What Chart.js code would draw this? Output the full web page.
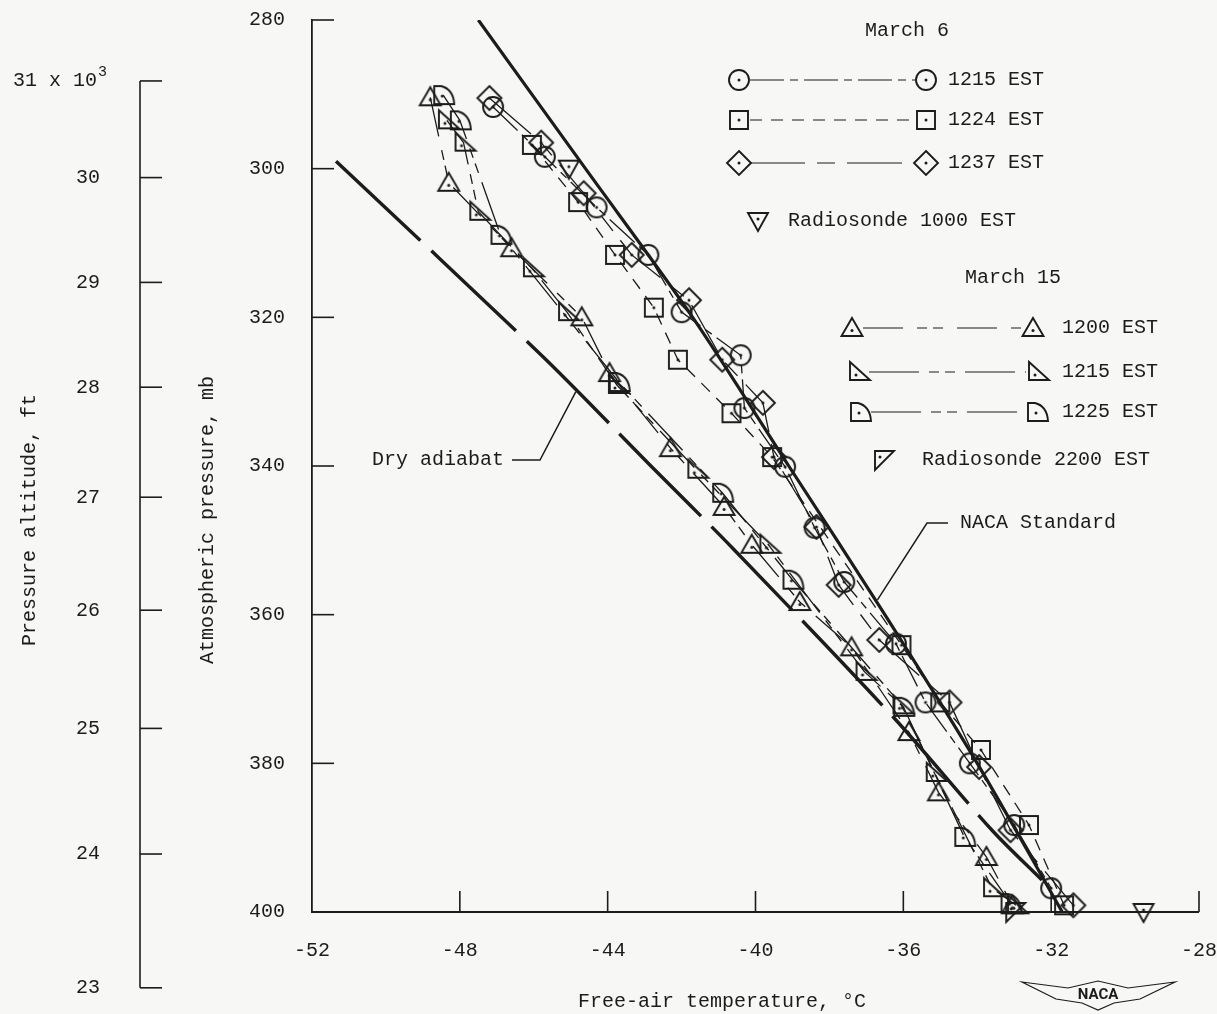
<!DOCTYPE html>
<html>
<head>
<meta charset="utf-8">
<title>Free-air temperature soundings</title>
<script src="https://cdn.jsdelivr.net/npm/chart.js@4.4.1/dist/chart.umd.min.js"></script>
<style>
  html, body { margin: 0; padding: 0; background: #f7f7f5; }
  #chart { display: block; }
</style>
</head>
<body>
<canvas id="chart" width="1217" height="1014"></canvas>
<script>
const ink = '#1c1c1c';
const mono = "'Liberation Mono', 'DejaVu Sans Mono', monospace";

// axes
const pressureTicks = [280, 300, 320, 340, 360, 380, 400];
const tempTicks = [-52, -48, -44, -40, -36, -32, -28];
const altitudeLabels = [31, 30, 29, 28, 27, 26, 25, 24, 23];
const altitudePressure = [288.2, 301.2, 315.3, 329.4, 344.2, 359.4, 375.3, 392.2, 410.2];

// March 6
const mar6_1215_t = [-47.1, -45.7, -44.3, -42.9, -42.0, -40.4, -40.3, -39.2, -38.4, -37.6, -36.2, -35.4, -34.2, -33.0, -32.0];
const mar6_1215_p = [291.7, 298.4, 305.2, 311.6, 319.3, 325.1, 332.2, 340.1, 348.3, 355.6, 363.9, 371.8, 380.0, 388.3, 396.8];
const mar6_1224_t = [-46.05, -44.8, -43.8, -42.75, -42.1, -40.65, -39.55, -36.05, -35.0, -33.9, -32.6, -31.65];
const mar6_1224_p = [296.8, 304.5, 311.6, 318.7, 325.7, 332.9, 338.8, 364.1, 371.8, 378.2, 388.3, 399.1];
const mar6_1237_t = [-47.2, -45.8, -44.65, -43.35, -41.8, -40.9, -39.8, -39.5, -38.35, -37.75, -36.65, -34.75, -33.95, -33.1, -31.4];
const mar6_1237_p = [290.5, 296.5, 303.3, 311.6, 317.7, 325.7, 331.5, 338.8, 348.2, 356.0, 363.4, 371.8, 380.5, 389.0, 399.1];
const sonde1000_t = [-45.05, -29.5];
const sonde1000_p = [300, 400];

// March 15
const mar15_1200_t = [-48.8, -48.3, -46.6, -44.7, -43.95, -42.3, -40.85, -40.1, -38.8, -37.4, -35.85, -35.05, -33.75, -33.05];
const mar15_1200_p = [290.4, 301.9, 310.7, 320.0, 327.5, 337.6, 345.5, 350.6, 358.3, 364.4, 375.8, 383.9, 392.6, 399.1];
const mar15_1215_t = [-48.35, -47.9, -47.5, -46.05, -45.1, -43.75, -41.6, -39.65, -37.05, -36.05, -35.15, -33.6, -32.95];
const mar15_1215_p = [293.5, 296.5, 305.8, 313.4, 319.3, 329.1, 340.5, 350.6, 367.7, 372.2, 381.3, 396.8, 399.1];
const mar15_1225_t = [-48.45, -48.0, -46.9, -43.7, -40.9, -39.0, -36.0, -34.35, -33.1];
const mar15_1225_p = [290.1, 293.5, 308.9, 328.7, 343.6, 355.3, 372.4, 389.9, 398.8];
const sonde2200_t = [-33.0];
const sonde2200_p = [400];

// reference curves
const nacaStd_t = [-47.5, -44.6, -41.7, -39.1, -36.5, -34.0, -31.7];
const nacaStd_p = [280, 300, 320, 340, 360, 380, 400];
const dryAdiabat_t = [-51.35, -45.75, -42.85, -40.65, -36.25, -33.6, -32.25];
const dryAdiabat_p = [299.0, 325.3, 339.9, 350.9, 373.9, 389.0, 395.7];

const pts = (t, p) => t.map((v, i) => ({ x: v, y: p[i] }));

// open markers with a centre dot, like the original symbols
function marker(shape) {
  const c = document.createElement('canvas');
  c.width = 30; c.height = 30;
  const g = c.getContext('2d');
  g.translate(15, 15);
  g.strokeStyle = ink; g.fillStyle = ink; g.lineWidth = 1.9;
  g.beginPath();
  let dot = [0, 0];
  if (shape === 'circle') g.arc(0, 0, 10, 0, Math.PI * 2);
  if (shape === 'square') g.rect(-9, -9, 18, 18);
  if (shape === 'diamond') { g.moveTo(0, -12); g.lineTo(12, 0); g.lineTo(0, 12); g.lineTo(-12, 0); g.closePath(); }
  if (shape === 'triangle') { g.moveTo(0, -10); g.lineTo(10.5, 8); g.lineTo(-10.5, 8); g.closePath(); dot = [0, 2.5]; }
  if (shape === 'rtri') { g.moveTo(-8, -10); g.lineTo(-8, 8); g.lineTo(12, 8); g.closePath(); dot = [-2, 3]; }
  if (shape === 'dshape') { g.moveTo(-9, 9); g.lineTo(-9, -9); g.lineTo(-2, -9); g.quadraticCurveTo(10, -6, 11, 9); g.closePath(); dot = [-1, 1]; }
  if (shape === 'down') { g.moveTo(-10, -8); g.lineTo(10, -8); g.lineTo(0, 10); g.closePath(); dot = [0, -2]; }
  if (shape === 'downFlag') { g.moveTo(-8, -9); g.lineTo(11, -9); g.lineTo(-8, 10); g.closePath(); dot = [-3, -3]; }
  g.stroke();
  g.beginPath(); g.arc(dot[0], dot[1], 1.5, 0, Math.PI * 2); g.fill();
  return c;
}

const markers = {
  circle: marker('circle'), square: marker('square'), diamond: marker('diamond'),
  triangle: marker('triangle'), rtri: marker('rtri'), dshape: marker('dshape'),
  down: marker('down'), downFlag: marker('downFlag')
};

function series(label, t, p, style, dash) {
  return {
    label, data: pts(t, p), showLine: dash !== null,
    borderColor: ink, borderWidth: 1.3, borderDash: dash || [],
    pointStyle: markers[style], pointRadius: 6, clip: false, tension: 0
  };
}

const datasets = [
  { label: 'NACA Standard', data: pts(nacaStd_t, nacaStd_p), showLine: true, borderColor: ink,
    borderWidth: 3.2, pointRadius: 0, tension: 0.3 },
  { label: 'Dry adiabat', data: pts(dryAdiabat_t, dryAdiabat_p), showLine: true, borderColor: ink,
    borderWidth: 3.4, borderDash: [116, 15], pointRadius: 0, tension: 0.3 },
  series('March 6 1215 EST', mar6_1215_t, mar6_1215_p, 'circle', [34, 6, 8, 6]),
  series('March 6 1224 EST', mar6_1224_t, mar6_1224_p, 'square', [12, 9]),
  series('March 6 1237 EST', mar6_1237_t, mar6_1237_p, 'diamond', [55, 12, 18, 12]),
  series('Radiosonde 1000 EST', sonde1000_t, sonde1000_p, 'down', null),
  series('March 15 1200 EST', mar15_1200_t, mar15_1200_p, 'triangle', [40, 14, 10, 6, 10, 14]),
  series('March 15 1215 EST', mar15_1215_t, mar15_1215_p, 'rtri', [50, 10, 10, 6, 10, 10]),
  series('March 15 1225 EST', mar15_1225_t, mar15_1225_p, 'dshape', [50, 10, 10, 6, 10, 10]),
  series('Radiosonde 2200 EST', sonde2200_t, sonde2200_p, 'downFlag', null)
];

// legend rows: dataset index, row y, marker x's, text x
const legendRows = [
  { ds: 2, y: 80, x1: 739, x2: 926, tx: 948, text: '1215 EST' },
  { ds: 3, y: 120, x1: 739, x2: 926, tx: 948, text: '1224 EST' },
  { ds: 4, y: 163, x1: 739, x2: 926, tx: 948, text: '1237 EST' },
  { ds: 6, y: 328, x1: 852, x2: 1033, tx: 1062, text: '1200 EST' },
  { ds: 7, y: 372, x1: 858, x2: 1037, tx: 1062, text: '1215 EST' },
  { ds: 8, y: 412, x1: 860, x2: 1037, tx: 1062, text: '1225 EST' }
];

const paper = {
  id: 'paper',
  beforeDraw(chart) {
    const ctx = chart.ctx;
    ctx.save();
    ctx.fillStyle = '#f7f7f5';
    ctx.fillRect(0, 0, chart.width, chart.height);
    ctx.restore();
  },
  afterDraw(chart) {
    const { ctx, scales: { x, y } } = chart;
    const left = chart.chartArea.left, bottom = chart.chartArea.bottom;
    ctx.save();
    ctx.strokeStyle = ink; ctx.fillStyle = ink; ctx.lineWidth = 1.6;

    // inward tick marks
    pressureTicks.forEach(v => {
      if (v === 400) return;
      const py = y.getPixelForValue(v);
      ctx.beginPath(); ctx.moveTo(left, py); ctx.lineTo(left + 22, py); ctx.stroke();
    });
    tempTicks.forEach(v => {
      if (v === -52) return;
      const px = x.getPixelForValue(v);
      ctx.beginPath(); ctx.moveTo(px, bottom); ctx.lineTo(px, bottom - 21); ctx.stroke();
    });

    // pressure-altitude scale, placed by the pressure axis
    const ax = 140;
    const yTop = y.getPixelForValue(altitudePressure[0]);
    const yBot = y.getPixelForValue(altitudePressure[altitudePressure.length - 1]);
    ctx.beginPath(); ctx.moveTo(ax, yTop); ctx.lineTo(ax, yBot); ctx.stroke();
    ctx.font = '20px ' + mono;
    ctx.textBaseline = 'middle';
    altitudeLabels.forEach((a, i) => {
      const py = y.getPixelForValue(altitudePressure[i]);
      ctx.beginPath(); ctx.moveTo(ax, py); ctx.lineTo(ax + 22, py); ctx.stroke();
      ctx.textAlign = 'right';
      if (i === 0) {
        ctx.fillText(a + ' x 10', 97, py);
        ctx.font = '15px ' + mono; ctx.textAlign = 'left';
        ctx.fillText('3', 98, py - 9);
        ctx.font = '20px ' + mono;
      } else {
        ctx.fillText(String(a), 100, py);
      }
    });

    // axis titles
    ctx.textAlign = 'center';
    const vtitle = (text, tx, ty) => {
      ctx.save(); ctx.translate(tx, ty); ctx.rotate(-Math.PI / 2);
      ctx.fillText(text, 0, 0); ctx.restore();
    };
    vtitle('Pressure altitude, ft', 30, 520);
    vtitle('Atmospheric pressure, mb', 208, 520);
    ctx.fillText('Free-air temperature, \u00B0C', 722, 1002);

    // legend
    ctx.textAlign = 'center';
    ctx.fillText('March 6', 907, 31);
    ctx.fillText('March 15', 1013, 278);
    ctx.lineWidth = 1.2;
    legendRows.forEach(r => {
      const ds = chart.data.datasets[r.ds];
      ctx.setLineDash(ds.borderDash);
      ctx.beginPath(); ctx.moveTo(r.x1 + 11, r.y); ctx.lineTo(r.x2 - 11, r.y); ctx.stroke();
      ctx.setLineDash([]);
      const m = ds.pointStyle;
      ctx.drawImage(m, r.x1 - m.width / 2, r.y - m.height / 2);
      ctx.drawImage(m, r.x2 - m.width / 2, r.y - m.height / 2);
      ctx.textAlign = 'left';
      ctx.fillText(r.text, r.tx, r.y);
    });
    ctx.drawImage(markers.down, 758 - 15, 221 - 15);
    ctx.fillText('Radiosonde 1000 EST', 788, 221);
    ctx.drawImage(markers.downFlag, 883 - 15, 460 - 15);
    ctx.fillText('Radiosonde 2200 EST', 922, 460);

    // curve labels with leaders
    ctx.lineWidth = 1.5;
    ctx.fillText('Dry adiabat', 372, 460);
    const dTip = [x.getPixelForValue(-44.86), y.getPixelForValue(330.0)];
    ctx.beginPath(); ctx.moveTo(512, 460); ctx.lineTo(540, 460); ctx.lineTo(dTip[0], dTip[1]); ctx.stroke();
    ctx.fillText('NACA Standard', 960, 523);
    const nTip = [x.getPixelForValue(-36.7), y.getPixelForValue(358.0)];
    ctx.beginPath(); ctx.moveTo(948, 523); ctx.lineTo(927, 523); ctx.lineTo(nTip[0], nTip[1]); ctx.stroke();

    // NACA wing badge
    ctx.lineWidth = 1.2;
    ctx.beginPath();
    ctx.moveTo(1022, 982); ctx.lineTo(1068, 988); ctx.lineTo(1098, 981); ctx.lineTo(1128, 988);
    ctx.lineTo(1175, 982); ctx.lineTo(1140, 999); ctx.lineTo(1114, 1003); ctx.lineTo(1098, 1010);
    ctx.lineTo(1082, 1003); ctx.lineTo(1056, 999); ctx.closePath(); ctx.stroke();
    ctx.font = 'bold 15px Roboto, sans-serif';
    ctx.textAlign = 'center';
    ctx.fillText('NACA', 1098, 995);
    ctx.restore();
  }
};

// hidden outward tick length keeps the labels off the axis without padding the layout
const hiddenTicks = { display: true, drawOnChartArea: false, drawTicks: true, tickLength: 27, tickColor: 'rgba(0,0,0,0)' };

new Chart(document.getElementById('chart'), {
  type: 'scatter',
  data: { datasets },
  options: {
    responsive: false,
    animation: false,
    events: [],
    layout: { padding: { top: 20, right: 17, bottom: 0, left: 0 } },
    plugins: { legend: { display: false }, tooltip: { enabled: false } },
    scales: {
      x: {
        type: 'linear', min: -52, max: -28, position: 'bottom',
        afterBuildTicks: s => { s.ticks = tempTicks.map(v => ({ value: v })); },
        afterFit: s => { s.height = 102; },
        ticks: { font: { family: mono, size: 20 }, color: ink, padding: 0, maxRotation: 0, autoSkip: false },
        grid: hiddenTicks,
        border: { color: ink, width: 2 }
      },
      y: {
        type: 'linear', min: 280, max: 400, reverse: true, position: 'left',
        afterBuildTicks: s => { s.ticks = pressureTicks.map(v => ({ value: v })); },
        afterFit: s => { s.width = 312; },
        ticks: { font: { family: mono, size: 20 }, color: ink, padding: 0, autoSkip: false },
        grid: hiddenTicks,
        border: { color: ink, width: 1.8 }
      }
    }
  },
  plugins: [paper]
});
</script>
</body>
</html>
